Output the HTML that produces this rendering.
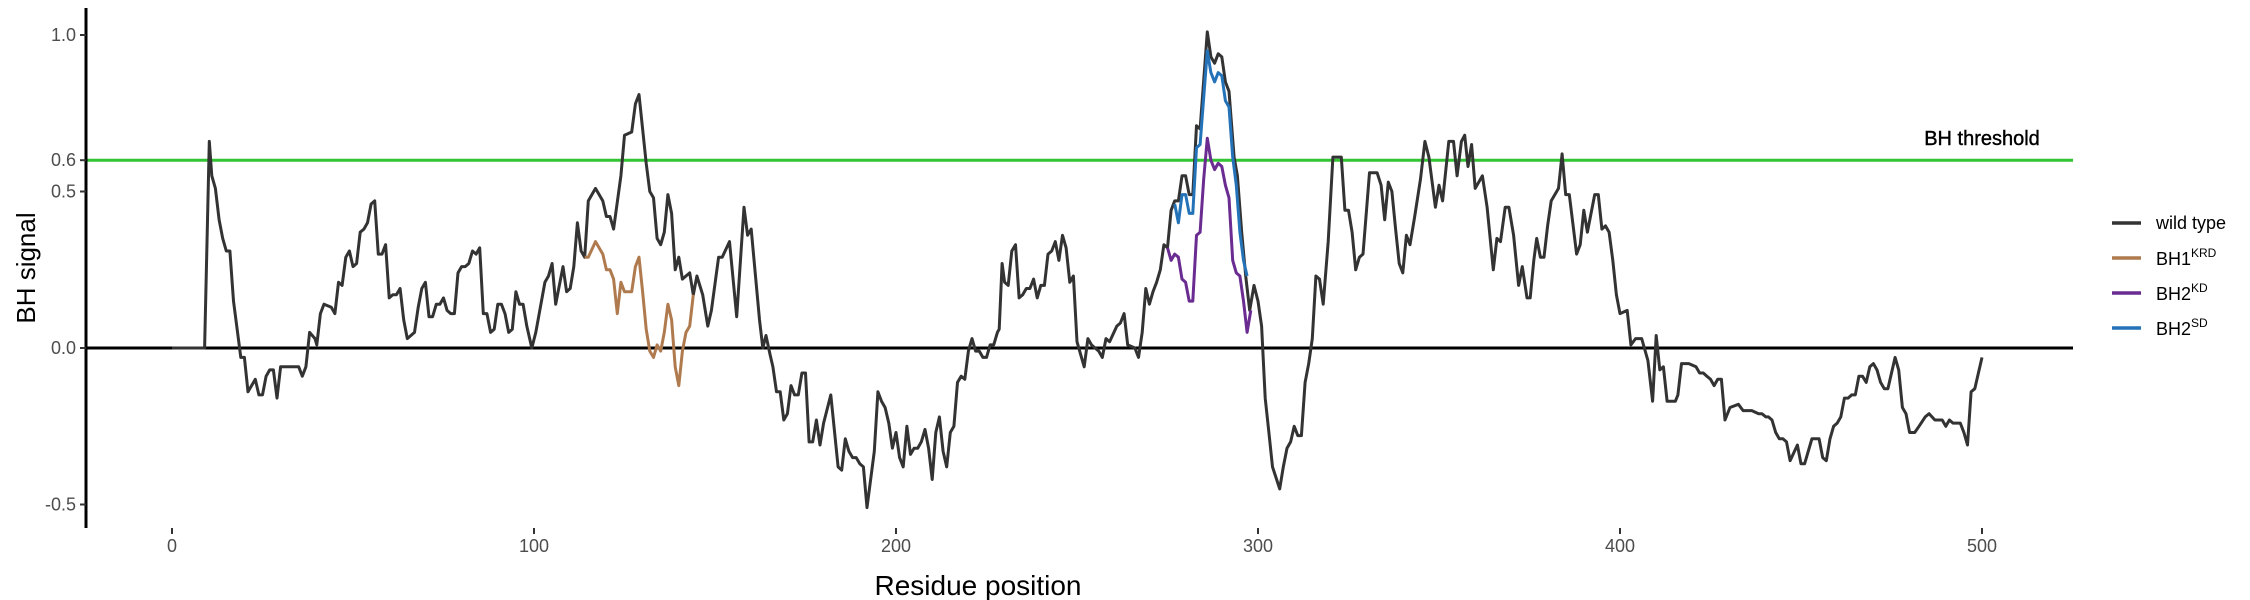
<!DOCTYPE html>
<html>
<head>
<meta charset="utf-8">
<style>
  html,body{margin:0;padding:0;background:#fff;}
  svg{display:block;font-family:"Liberation Sans",Arial,sans-serif;}
</style>
</head>
<body>
<svg id="chart" width="2250" height="600" viewBox="0 0 2250 600" xmlns="http://www.w3.org/2000/svg">
  <rect x="0" y="0" width="2250" height="600" fill="#ffffff"/>
  <g id="grid"></g>
  <g id="series"></g>
  <g id="axes"></g>
  <text x="28" y="268" transform="rotate(-90 28 268)" text-anchor="middle" dominant-baseline="middle" font-size="26" fill="#000">BH signal</text>
  <text x="978" y="595" text-anchor="middle" font-size="28" fill="#000">Residue position</text>
  <g>
    <line x1="2112" y1="223" x2="2141" y2="223" stroke="#333333" stroke-width="3.5"/>
    <text x="2156" y="229" font-size="18" fill="#000">wild type</text>
    <line x1="2112" y1="258" x2="2141" y2="258" stroke="#b07a4f" stroke-width="3.5"/>
    <text x="2156" y="265" font-size="18" fill="#000">BH1<tspan dy="-8" font-size="12">KRD</tspan></text>
    <line x1="2112" y1="293" x2="2141" y2="293" stroke="#6a2c91" stroke-width="3.5"/>
    <text x="2156" y="300" font-size="18" fill="#000">BH2<tspan dy="-8" font-size="12">KD</tspan></text>
    <line x1="2112" y1="328" x2="2141" y2="328" stroke="#2473b8" stroke-width="3.5"/>
    <text x="2156" y="335" font-size="18" fill="#000">BH2<tspan dy="-8" font-size="12">SD</tspan></text>
  </g>
</svg>
<script>
const xTicks = [0, 100, 200, 300, 400, 500];
const yTicks = [-0.5, 0.0, 0.5, 0.6, 1.0];
const yTickLabels = ["-0.5", "0.0", "0.5", "0.6", "1.0"];
const threshold = 0.6;
const thresholdLabel = "BH threshold";

const wtPos = [0,9,10.3,11,12,13,14,15,16,17,19,20,21,23,24,25,26,27,28,29,30,31,35,36,37,38,39.5,40,41,42,44,45,46,47,48,49,50,51,52,53,54,55,56,57,58,59,60,61,62,63,64,65,66,67,68,69,70,71,72,73,74,75,76,77,78,79,80,81,82,83,84,85,86,87,88,89,90,91,92,93,94,95,96,97,98,99.4,100.5,101.6,103,104,105,106,108,109,110,111,112,113,114,115,117,119,120,121,122,124,125,127,128,129,130,131,132,133,134,135,136,137,138,139,140,141,142,143,144,145,146.6,148,149,151,152,154,156,158,159,160,162.3,163.2,164.1,165.2,166,167,168,169,170,171,172,173,174,175,176,177,178,179,180,182,184,185,186,187,188,189,190,191,192,194,195,196,197,198,199,200,201,202,203,204,205,206,207,208,209,210,211,212,213,214,215,216,217,218,219,220,221,222,223,224,225,226,227,228,228.5,229.3,230,231,232,233,234,235,236,237,238,239,240,241,242,243,244,245,246,247,248,249,250,251,252,253,254,256,257,258,259,261,262,263,264,266,267,268,269,270,271,272,273,274,275,276,277,278,279,280,281,282,283,284,286,287,288,289,290,291,292,293.4,294.3,295.5,296.6,297.7,298.9,300,301,302,303,304,306,307,308,309,310,311,312,313,314,315,316,317,318,319.4,320.7,322.2,323,324,325,326,327,328,329,330.8,332.9,334,335,336,337,338,339,340,341,342,343.3,344.9,346.1,347.2,349,350,351,352.7,354,355,356.2,357.1,358,359,360,362,363.3,365,366,367,368.3,369.3,370.6,372,373,374.3,375.2,376.2,377,378,379,380,381,383,384,385,386,388,389,390,391,393,394,395,396,397,398,399,400,402,403,404.3,406,407.7,409,410,411,412,413,415.3,416,417,419,421,422,423,424,425,426,427,428,429,430.4,432.7,434,436.4,438.3,439.2,440.3,441,442,443,444,445,446,447,449,450,451,453,455,456,457,458,459,460,461,462,463,464,465,466,467,468,469,470,471,472,473,474,475,476,477,478,479,480,481.4,482.6,484.3,485.4,486.2,487,489,490,491,492,494,495,496,497,498,499,500];
const wtVal = [0,0,0.66,0.55,0.51,0.41,0.35,0.31,0.31,0.15,-0.03,-0.03,-0.14,-0.10,-0.15,-0.15,-0.09,-0.07,-0.07,-0.16,-0.06,-0.06,-0.06,-0.09,-0.06,0.05,0.03,0.01,0.11,0.14,0.13,0.11,0.21,0.20,0.29,0.31,0.26,0.27,0.37,0.38,0.40,0.46,0.47,0.30,0.30,0.33,0.16,0.17,0.17,0.19,0.09,0.03,0.04,0.05,0.13,0.19,0.21,0.10,0.10,0.14,0.14,0.16,0.12,0.11,0.11,0.24,0.26,0.26,0.27,0.31,0.30,0.32,0.11,0.11,0.05,0.06,0.14,0.14,0.11,0.05,0.06,0.18,0.14,0.14,0.07,0,0.05,0.12,0.21,0.23,0.27,0.14,0.26,0.18,0.19,0.26,0.40,0.31,0.29,0.47,0.51,0.47,0.42,0.42,0.38,0.55,0.68,0.69,0.78,0.81,0.70,0.59,0.50,0.48,0.35,0.33,0.37,0.49,0.43,0.25,0.29,0.22,0.23,0.24,0.17,0.23,0.17,0.07,0.12,0.29,0.29,0.34,0.10,0.45,0.36,0.38,0.09,0,0.04,-0.02,-0.06,-0.14,-0.14,-0.23,-0.21,-0.12,-0.15,-0.15,-0.08,-0.08,-0.30,-0.30,-0.23,-0.31,-0.24,-0.15,-0.38,-0.39,-0.29,-0.33,-0.35,-0.35,-0.37,-0.38,-0.51,-0.33,-0.14,-0.17,-0.19,-0.24,-0.32,-0.27,-0.35,-0.38,-0.25,-0.34,-0.32,-0.32,-0.30,-0.26,-0.32,-0.42,-0.27,-0.22,-0.33,-0.38,-0.27,-0.25,-0.11,-0.09,-0.10,-0.01,0.03,-0.01,-0.01,-0.03,-0.03,0.01,0.01,0.05,0.06,0.27,0.21,0.20,0.31,0.33,0.16,0.17,0.19,0.19,0.22,0.16,0.20,0.20,0.30,0.31,0.34,0.28,0.36,0.32,0.21,0.23,0.02,-0.02,-0.06,0.03,0.01,-0.01,-0.03,0.03,0.02,0.07,0.08,0.11,0.01,0,-0.03,0.05,0.19,0.14,0.18,0.21,0.25,0.33,0.32,0.44,0.47,0.47,0.55,0.55,0.49,0.49,0.71,0.70,1.01,0.93,0.91,0.94,0.93,0.85,0.82,0.61,0.55,0.37,0.23,0.12,0.20,0.15,0.07,-0.16,-0.27,-0.38,-0.45,-0.38,-0.32,-0.30,-0.25,-0.28,-0.28,-0.11,-0.05,0.03,0.23,0.22,0.14,0.34,0.61,0.61,0.61,0.44,0.44,0.37,0.25,0.29,0.30,0.56,0.56,0.52,0.41,0.53,0.50,0.38,0.27,0.24,0.36,0.33,0.42,0.54,0.66,0.61,0.45,0.52,0.47,0.66,0.66,0.55,0.66,0.68,0.58,0.65,0.51,0.55,0.45,0.25,0.35,0.34,0.45,0.45,0.36,0.20,0.26,0.16,0.16,0.28,0.35,0.29,0.29,0.39,0.47,0.51,0.62,0.49,0.49,0.30,0.33,0.44,0.37,0.49,0.49,0.38,0.39,0.37,0.28,0.17,0.11,0.12,0.01,0.03,0.03,-0.04,-0.17,0.04,-0.07,-0.06,-0.17,-0.17,-0.15,-0.05,-0.05,-0.06,-0.08,-0.08,-0.09,-0.10,-0.12,-0.10,-0.10,-0.23,-0.19,-0.18,-0.20,-0.20,-0.21,-0.21,-0.22,-0.22,-0.23,-0.27,-0.29,-0.29,-0.30,-0.36,-0.31,-0.37,-0.37,-0.29,-0.29,-0.35,-0.36,-0.29,-0.25,-0.24,-0.22,-0.16,-0.16,-0.15,-0.15,-0.09,-0.09,-0.11,-0.06,-0.05,-0.07,-0.11,-0.13,-0.13,-0.08,-0.03,-0.07,-0.19,-0.21,-0.27,-0.27,-0.25,-0.22,-0.21,-0.22,-0.23,-0.23,-0.25,-0.23,-0.24,-0.24,-0.27,-0.31,-0.14,-0.13,-0.08,-0.03];

const bh1Pos = [114,115,117,119,120,121,122,123,124,125,127,128,129,130,131,132,133,134,135,136,137,138,139,140,141,142,143,144];
const bh1Val = [0.29,0.29,0.34,0.30,0.25,0.25,0.22,0.11,0.21,0.18,0.18,0.26,0.29,0.18,0.06,-0.01,-0.03,0.01,-0.01,0.05,0.14,0.09,-0.06,-0.12,-0.01,0.05,0.07,0.17];

const kdPos = [275,276,277,278,279,280,281,282,283,284,285,286,287,288,289,290,291,292,293,294,295,296,297,298];
const kdVal = [0.32,0.28,0.30,0.29,0.22,0.21,0.15,0.15,0.36,0.37,0.54,0.67,0.60,0.57,0.59,0.58,0.52,0.48,0.28,0.24,0.23,0.15,0.05,0.12];

const sdPos = [277,278,279,280,281,282,283,284,286,287,288,289,290,291,292,293,294,295,296,297];
const sdVal = [0.46,0.40,0.49,0.49,0.43,0.43,0.64,0.65,0.95,0.88,0.85,0.88,0.87,0.79,0.77,0.61,0.52,0.37,0.28,0.23];

const NS = "http://www.w3.org/2000/svg";
const X0 = 172, XS = 3.62;
const Y0 = 348, YS = 313;
const PL = 86, PR = 2073, PT = 8, PB = 528;
function xPos(v){ return X0 + v * XS; }
function yPos(v){ return Y0 - v * YS; }
function mk(tag, attrs, parent){
  const el = document.createElementNS(NS, tag);
  for (const k in attrs) el.setAttribute(k, attrs[k]);
  parent.appendChild(el);
  return el;
}
const grid = document.getElementById('grid');
const series = document.getElementById('series');
const axes = document.getElementById('axes');

const zl = mk('line', {x1: PL, x2: PR, y1: yPos(0), y2: yPos(0), stroke: '#000', 'stroke-width': 3}, grid);


const th = mk('line', {x1: PL, x2: PR, y1: yPos(threshold), y2: yPos(threshold), stroke: '#33c433', 'stroke-width': 3}, grid);


const tht = mk('text', {x: xPos(500), y: yPos(threshold) - 15, 'text-anchor': 'middle', 'font-size': 20, fill: '#000', stroke: '#000', 'stroke-width': 0.4}, grid);
tht.textContent = thresholdLabel;



function drawLine(pos, val, color, name){
  let d = '';
  for (let i = 0; i < pos.length; i++) d += (i ? 'L' : 'M') + xPos(pos[i]).toFixed(1) + ',' + yPos(val[i]).toFixed(1);
  const p = mk('path', {d: d, fill: 'none', stroke: color, 'stroke-width': 3, 'stroke-linejoin': 'round'}, series);
  
  
}
drawLine(wtPos, wtVal, '#333333', 'wild-type-line');
drawLine(bh1Pos, bh1Val, '#b07a4f', 'bh1-krd-line');
drawLine(kdPos, kdVal, '#6a2c91', 'bh2-kd-line');
drawLine(sdPos, sdVal, '#2473b8', 'bh2-sd-line');

const ya = mk('line', {x1: PL, x2: PL, y1: PT, y2: PB, stroke: '#000', 'stroke-width': 3}, axes);


yTicks.forEach((t, i) => {
  const tk = mk('line', {x1: PL - 6, x2: PL, y1: yPos(t), y2: yPos(t), stroke: '#333', 'stroke-width': 2}, axes);
  
  
  const lb = mk('text', {x: PL - 10, y: yPos(t) + 6, 'text-anchor': 'end', 'font-size': 18, fill: '#4d4d4d'}, axes);
  lb.textContent = yTickLabels[i];
  
  
});
xTicks.forEach(t => {
  const tk = mk('line', {x1: xPos(t), x2: xPos(t), y1: PB, y2: PB + 6, stroke: '#333', 'stroke-width': 2}, axes);
  
  
  const lb = mk('text', {x: xPos(t), y: PB + 24, 'text-anchor': 'middle', 'font-size': 18, fill: '#4d4d4d'}, axes);
  lb.textContent = String(t);
  
  
});
</script>
</body>
</html>
